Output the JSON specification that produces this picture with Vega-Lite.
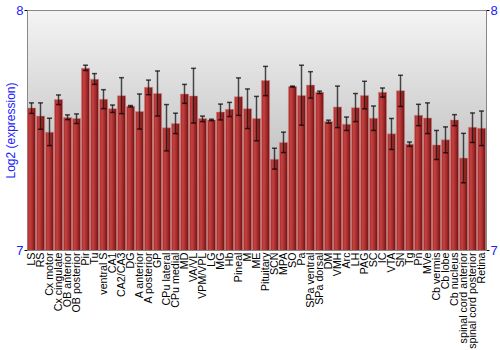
{
  "$schema": "https://vega.github.io/schema/vega-lite/v6.json",
  "width": 459,
  "height": 240,
  "autosize": "none",
  "padding": {"left": 27, "top": 10, "right": 14, "bottom": 100},
  "config": {
    "view": {
      "stroke": "#888888",
      "strokeWidth": 1,
      "fill": {"gradient": "linear", "x1": 0, "y1": 0, "x2": 0, "y2": 1,
        "stops": [{"offset": 0, "color": "#f4f4f4"}, {"offset": 0.5, "color": "#cdcdcd"}, {"offset": 1, "color": "#a2a2a2"}]}
    },
    "font": "Liberation Sans"
  },
  "data": {"values": [
    {"region": "LS", "value": 7.592, "lo": 7.569, "hi": 7.613},
    {"region": "RS", "value": 7.558, "lo": 7.503, "hi": 7.613},
    {"region": "Cx motor", "value": 7.491, "lo": 7.435, "hi": 7.549},
    {"region": "Cx cingulate", "value": 7.627, "lo": 7.606, "hi": 7.646},
    {"region": "OB anterior", "value": 7.552, "lo": 7.543, "hi": 7.563},
    {"region": "OB posterior", "value": 7.548, "lo": 7.527, "hi": 7.567},
    {"region": "Pir", "value": 7.757, "lo": 7.748, "hi": 7.770},
    {"region": "Tu", "value": 7.711, "lo": 7.690, "hi": 7.735},
    {"region": "ventral S", "value": 7.628, "lo": 7.589, "hi": 7.668},
    {"region": "CA1", "value": 7.589, "lo": 7.573, "hi": 7.604},
    {"region": "CA2/CA3", "value": 7.643, "lo": 7.568, "hi": 7.718},
    {"region": "DG", "value": 7.599, "lo": 7.596, "hi": 7.602},
    {"region": "A anterior", "value": 7.577, "lo": 7.504, "hi": 7.650},
    {"region": "A posterior", "value": 7.678, "lo": 7.647, "hi": 7.708},
    {"region": "GP", "value": 7.652, "lo": 7.558, "hi": 7.746},
    {"region": "CPu lateral", "value": 7.509, "lo": 7.413, "hi": 7.606},
    {"region": "CPu medial", "value": 7.527, "lo": 7.485, "hi": 7.570},
    {"region": "MD", "value": 7.650, "lo": 7.611, "hi": 7.690},
    {"region": "VA/VL", "value": 7.642, "lo": 7.529, "hi": 7.757},
    {"region": "VPM/VPL", "value": 7.548, "lo": 7.535, "hi": 7.558},
    {"region": "LG", "value": 7.542, "lo": 7.539, "hi": 7.545},
    {"region": "MG", "value": 7.575, "lo": 7.542, "hi": 7.608},
    {"region": "Hb", "value": 7.586, "lo": 7.556, "hi": 7.615},
    {"region": "Pineal", "value": 7.639, "lo": 7.561, "hi": 7.717},
    {"region": "M", "value": 7.589, "lo": 7.506, "hi": 7.671},
    {"region": "ME", "value": 7.548, "lo": 7.455, "hi": 7.640},
    {"region": "Pituitary", "value": 7.706, "lo": 7.643, "hi": 7.765},
    {"region": "SCN", "value": 7.378, "lo": 7.337, "hi": 7.424},
    {"region": "MPA", "value": 7.448, "lo": 7.406, "hi": 7.491},
    {"region": "SO", "value": 7.681, "lo": 7.679, "hi": 7.683},
    {"region": "Pa", "value": 7.644, "lo": 7.520, "hi": 7.770},
    {"region": "SPa ventral", "value": 7.687, "lo": 7.633, "hi": 7.743},
    {"region": "SPa dorsal", "value": 7.657, "lo": 7.652, "hi": 7.662},
    {"region": "DM", "value": 7.535, "lo": 7.529, "hi": 7.541},
    {"region": "VMH", "value": 7.596, "lo": 7.510, "hi": 7.683},
    {"region": "Arc", "value": 7.524, "lo": 7.498, "hi": 7.554},
    {"region": "LH", "value": 7.593, "lo": 7.535, "hi": 7.652},
    {"region": "PAG", "value": 7.644, "lo": 7.588, "hi": 7.703},
    {"region": "SC", "value": 7.549, "lo": 7.498, "hi": 7.600},
    {"region": "IC", "value": 7.657, "lo": 7.637, "hi": 7.675},
    {"region": "VTA", "value": 7.484, "lo": 7.419, "hi": 7.548},
    {"region": "SN", "value": 7.664, "lo": 7.598, "hi": 7.728},
    {"region": "Tg", "value": 7.441, "lo": 7.432, "hi": 7.450},
    {"region": "Pn", "value": 7.561, "lo": 7.518, "hi": 7.607},
    {"region": "MVe", "value": 7.550, "lo": 7.485, "hi": 7.613},
    {"region": "Cb vermis", "value": 7.438, "lo": 7.377, "hi": 7.498},
    {"region": "Cb lobe", "value": 7.459, "lo": 7.405, "hi": 7.513},
    {"region": "Cb nucleus", "value": 7.542, "lo": 7.518, "hi": 7.564},
    {"region": "spinal cord anterior", "value": 7.383, "lo": 7.280, "hi": 7.486},
    {"region": "spinal cord posterior", "value": 7.511, "lo": 7.448, "hi": 7.571},
    {"region": "Retina", "value": 7.507, "lo": 7.435, "hi": 7.579}
  ]},
  "encoding": {
    "x": {"field": "region", "type": "nominal", "sort": null,
      "scale": {"paddingInner": 0.1, "paddingOuter": 0.05},
      "axis": {"title": null, "labelAngle": -90, "labelFontSize": 10.7, "labelColor": "#000000", "ticks": false, "domain": false, "labelPadding": 2, "labelLimit": 200}}
  },
  "layer": [
    {
      "mark": {"type": "bar", "clip": true, "stroke": "#e08888", "strokeOpacity": 0.5, "strokeWidth": 1,
        "color": {"gradient": "linear", "x1": 0, "y1": 0, "x2": 1, "y2": 0,
          "stops": [{"offset": 0, "color": "#a02a2a"}, {"offset": 0.3, "color": "#c44242"}, {"offset": 0.65, "color": "#a22a2a"}, {"offset": 1, "color": "#6a1010"}]}},
      "encoding": {
        "y": {"field": "value", "type": "quantitative", "scale": {"domain": [7, 8], "zero": false, "nice": false},
          "axis": {"title": "Log2 (expression)", "titleColor": "#2020ff", "titleFontSize": 12, "titleFontWeight": "normal", "titlePadding": -2,
            "values": [7, 8], "format": "d", "labelColor": "#2020ff", "labelFontSize": 13, "grid": false, "domainColor": "#888888", "tickColor": "#000000", "tickSize": 3, "labelPadding": 1}}
      }
    },
    {
      "mark": {"type": "rule", "color": "#111111", "opacity": 0.75, "strokeWidth": 1.5},
      "encoding": {
        "y": {"field": "lo", "type": "quantitative", "axis": {"orient": "right", "title": null, "values": [7, 8], "format": "d", "labelColor": "#2020ff", "labelFontSize": 13, "grid": false, "domainColor": "#888888", "tickColor": "#000000", "tickSize": 3, "labelPadding": 1}},
        "y2": {"field": "hi"}
      }
    },
    {
      "mark": {"type": "tick", "color": "#000000", "thickness": 1.5, "size": 5},
      "encoding": {"y": {"field": "lo", "type": "quantitative", "axis": null}}
    },
    {
      "mark": {"type": "tick", "color": "#000000", "thickness": 1.5, "size": 5},
      "encoding": {"y": {"field": "hi", "type": "quantitative", "axis": null}}
    }
  ],
  "resolve": {"axis": {"y": "independent"}}
}
